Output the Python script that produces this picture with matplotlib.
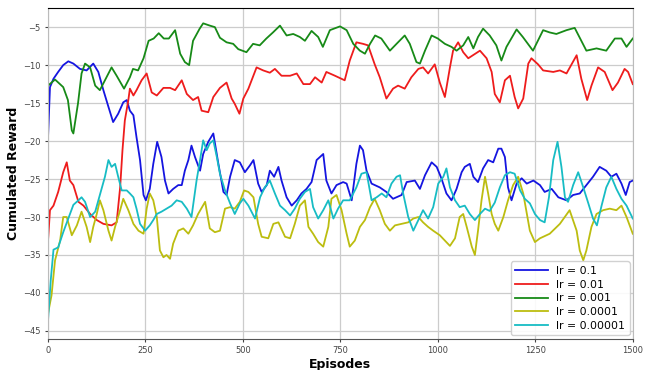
import matplotlib
matplotlib.use("Agg")
import matplotlib.pyplot as plt

# values (episode, reward)
ep_01 = [0, 5, 14, 26, 39, 52, 65, 82, 99, 116, 129, 142, 155, 167, 180, 193, 202, 210, 219, 227, 236, 245,
         251, 261, 270, 280, 291, 300, 309, 321, 334, 343, 351, 360, 368, 377, 390, 398, 411, 424, 437, 450,
         458, 467, 479, 492, 505, 518, 527, 539, 548, 561, 569, 580, 591, 599, 612, 625, 638, 650, 663, 676,
         689, 706, 714, 727, 740, 757, 766, 779, 791, 800, 808, 817, 830, 851, 868, 885, 907, 920, 941, 954,
         967, 984, 997, 1009, 1022, 1035, 1048, 1061, 1069, 1082, 1091, 1103, 1116, 1129, 1142, 1155, 1163,
         1172, 1180, 1189, 1202, 1215, 1228, 1245, 1262, 1274, 1292, 1309, 1330, 1347, 1364, 1381, 1398, 1415,
         1432, 1445, 1458, 1471, 1482, 1492, 1500]
r_01 = [-19.5, -12.9, -11.8, -10.9, -10.0, -9.5, -9.8, -10.5, -10.7, -9.8, -10.9, -13.3, -15.5, -17.5, -16.4,
        -14.9, -14.6, -16.0, -16.6, -19.5, -22.5, -27.1, -27.8, -26.3, -23.0, -20.1, -22.1, -25.2, -26.9, -26.3,
        -25.8, -25.8, -23.9, -22.5, -20.6, -22.1, -23.9, -21.7, -20.1, -19.0, -23.0, -26.7, -27.1, -24.7, -22.5,
        -22.8, -24.1, -23.2, -22.5, -25.6, -26.7, -25.8, -23.9, -24.7, -23.4, -25.2, -27.4, -28.5, -27.8, -26.9,
        -26.3, -25.4, -22.5, -21.7, -25.2, -26.9, -25.8, -25.4, -25.6, -27.8, -23.0, -20.6, -21.2, -23.9, -25.6,
        -26.1, -26.7, -27.6, -27.1, -25.4, -25.2, -26.3, -24.5, -22.8, -23.4, -24.9, -26.9, -27.8, -26.3, -24.1,
        -23.4, -23.0, -24.7, -25.4, -23.6, -22.5, -22.8, -21.0, -21.0, -22.1, -26.1, -27.8, -25.6, -24.9, -25.6,
        -25.2, -25.8, -26.7, -26.3, -27.4, -27.8, -27.1, -26.9, -25.8, -24.7, -23.4, -23.9, -24.7, -24.3, -25.6,
        -27.1, -25.4, -25.2]

ep_001 = [0, 5, 14, 26, 39, 48, 56, 65, 78, 91, 108, 125, 142, 163, 176, 185, 191, 197, 206, 210, 219, 227,
          240, 253, 266, 279, 296, 313, 326, 343, 356, 372, 385, 394, 411, 424, 441, 458, 471, 479, 491, 501,
          514, 535, 552, 569, 582, 599, 621, 638, 655, 672, 685, 702, 714, 736, 761, 774, 791, 808, 821, 838,
          851, 868, 885, 898, 915, 932, 950, 962, 975, 992, 1005, 1018, 1031, 1039, 1052, 1065, 1078, 1090,
          1108, 1125, 1138, 1146, 1159, 1172, 1185, 1197, 1206, 1219, 1232, 1240, 1257, 1270, 1296, 1313, 1330,
          1356, 1368, 1383, 1394, 1411, 1428, 1448, 1462, 1479, 1488, 1500]
r_001 = [-33.1, -29.1, -28.5, -26.7, -24.1, -22.8, -25.2, -25.8, -28.0, -28.5, -29.6, -30.4, -30.9, -31.1,
         -30.7, -26.1, -21.2, -17.3, -14.6, -13.1, -14.0, -13.3, -12.0, -11.1, -13.6, -14.0, -13.0, -13.0, -13.3,
         -12.0, -13.8, -14.6, -14.2, -16.0, -16.2, -14.2, -13.0, -12.3, -14.4, -15.1, -16.4, -14.4, -13.1, -10.3,
         -10.7, -11.0, -10.5, -11.4, -11.4, -11.1, -12.5, -12.5, -11.6, -12.3, -10.9, -11.4, -12.0, -9.4, -7.0,
         -7.2, -7.4, -9.9, -11.6, -14.4, -13.1, -12.7, -13.1, -11.6, -10.5, -10.3, -11.1, -9.9, -12.3, -14.2,
         -10.3, -8.1, -7.0, -8.3, -9.1, -8.7, -8.1, -9.1, -10.9, -13.8, -14.9, -12.0, -11.4, -14.2, -15.7, -14.4,
         -9.8, -9.1, -9.9, -10.7, -10.9, -10.7, -11.1, -8.7, -11.8, -14.6, -12.7, -10.3, -10.9, -13.3, -12.3,
         -10.5, -10.9, -12.5]

ep_0001 = [0, 18, 39, 51, 61, 65, 77, 86, 95, 108, 121, 133, 150, 163, 176, 195, 210, 218, 231, 245, 258, 271,
           284, 297, 310, 326, 339, 351, 362, 372, 389, 398, 415, 428, 441, 458, 475, 488, 509, 526, 543, 560,
           577, 595, 612, 629, 646, 659, 676, 693, 705, 723, 749, 766, 783, 800, 813, 826, 839, 855, 877, 894,
           915, 928, 945, 954, 967, 984, 1000, 1018, 1035, 1048, 1065, 1078, 1091, 1103, 1116, 1133, 1150, 1163,
           1176, 1202, 1218, 1244, 1270, 1287, 1304, 1330, 1351, 1372, 1381, 1407, 1432, 1454, 1471, 1484, 1500]
r_0001 = [-12.7, -11.9, -12.9, -14.6, -18.6, -19.0, -15.0, -11.1, -9.8, -10.3, -12.7, -13.3, -11.6, -10.3,
          -11.4, -13.1, -11.6, -10.5, -10.7, -9.1, -6.8, -6.5, -5.8, -6.5, -6.5, -5.4, -8.5, -9.6, -10.0, -6.8,
          -5.2, -4.5, -4.8, -5.0, -6.4, -7.0, -7.2, -7.9, -8.3, -7.2, -7.4, -6.5, -5.7, -4.8, -6.1, -5.9, -6.3,
          -6.8, -5.5, -6.3, -7.6, -5.4, -4.9, -5.4, -7.2, -8.1, -8.5, -7.2, -6.1, -6.5, -8.1, -7.2, -6.1, -7.2,
          -9.6, -9.8, -8.1, -6.1, -6.5, -7.2, -7.6, -8.1, -7.4, -6.3, -7.8, -6.3, -5.2, -6.1, -7.4, -9.4, -7.6,
          -5.3, -6.3, -8.1, -5.4, -5.7, -5.9, -5.4, -5.1, -7.2, -8.1, -7.8, -8.1, -6.5, -6.5, -7.6, -6.5]

ep_00001 = [0, 9, 18, 31, 39, 48, 61, 74, 86, 99, 108, 116, 125, 133, 142, 155, 163, 172, 185, 193, 206, 219,
            232, 245, 253, 261, 270, 279, 287, 296, 304, 313, 321, 334, 347, 360, 372, 385, 403, 415, 428, 441,
            454, 467, 479, 492, 503, 514, 527, 539, 548, 565, 578, 591, 608, 621, 633, 646, 659, 668, 680, 693,
            706, 719, 727, 740, 753, 766, 774, 787, 800, 813, 826, 838, 851, 864, 877, 890, 907, 924, 937, 950,
            962, 975, 988, 1005, 1018, 1031, 1044, 1056, 1065, 1074, 1087, 1095, 1103, 1112, 1121, 1129, 1138,
            1146, 1155, 1168, 1180, 1193, 1206, 1219, 1236, 1249, 1262, 1287, 1313, 1338, 1356, 1364, 1373, 1381,
            1394, 1407, 1424, 1441, 1458, 1471, 1484, 1500]
r_00001 = [-42.7, -40.3, -35.7, -33.1, -30.0, -30.0, -32.4, -31.1, -29.3, -31.3, -33.3, -31.3, -29.6, -27.8,
           -29.1, -31.8, -33.1, -31.3, -29.1, -27.6, -29.1, -30.9, -31.8, -32.2, -28.9, -26.9, -27.8, -30.0,
           -34.4, -35.3, -35.0, -35.5, -33.5, -31.8, -31.5, -32.2, -31.1, -29.6, -28.0, -31.5, -32.0, -31.8,
           -28.9, -28.7, -28.9, -28.0, -26.5, -26.7, -27.4, -30.9, -32.6, -32.8, -30.9, -30.7, -32.6, -32.8,
           -30.9, -28.5, -27.8, -31.3, -32.2, -33.3, -33.9, -31.3, -27.6, -27.1, -29.1, -32.2, -33.9, -33.1,
           -31.3, -30.4, -28.7, -27.6, -29.1, -30.9, -31.8, -31.1, -30.9, -30.7, -30.2, -30.0, -30.7, -31.3,
           -31.8, -32.4, -33.1, -33.8, -32.8, -30.0, -29.6, -31.3, -33.9, -35.0, -31.8, -27.8, -24.7, -26.9,
           -29.6, -30.9, -31.8, -30.0, -27.8, -25.8, -24.7, -26.9, -31.8, -33.3, -32.8, -32.2, -30.9, -29.1,
           -31.8, -34.4, -35.7, -34.4, -31.3, -29.6, -29.1, -28.9, -29.1, -28.5, -30.0, -32.2]

ep_000001 = [0, 7, 14, 26, 39, 52, 65, 78, 86, 95, 108, 121, 133, 146, 155, 163, 172, 180, 189, 202, 210, 219,
             227, 236, 249, 261, 270, 279, 291, 304, 317, 330, 343, 356, 368, 381, 390, 398, 407, 415, 424, 433,
             441, 454, 467, 479, 492, 501, 514, 531, 544, 556, 569, 582, 595, 608, 621, 633, 646, 659, 672, 680,
             693, 706, 719, 732, 744, 757, 774, 791, 804, 817, 830, 843, 856, 868, 881, 894, 903, 911, 924, 937,
             950, 962, 975, 988, 1001, 1014, 1022, 1031, 1044, 1056, 1069, 1082, 1095, 1108, 1121, 1133, 1146,
             1159, 1172, 1185, 1197, 1211, 1223, 1236, 1249, 1262, 1274, 1285, 1296, 1307, 1317, 1326, 1334, 1347,
             1360, 1373, 1386, 1398, 1408, 1420, 1432, 1445, 1458, 1471, 1484, 1500]
r_000001 = [-43.6, -38.3, -34.3, -34.0, -32.0, -30.2, -28.4, -27.8, -27.4, -28.0, -30.0, -29.3, -27.1, -24.7,
            -22.5, -23.4, -23.0, -24.7, -26.5, -26.5, -26.9, -27.4, -28.9, -30.9, -31.8, -31.1, -30.4, -29.6,
            -29.3, -28.9, -28.5, -27.8, -28.0, -28.9, -30.0, -25.2, -22.5, -19.9, -21.2, -20.3, -19.9, -22.1,
            -24.3, -26.5, -28.2, -29.6, -28.2, -27.6, -28.5, -30.2, -27.4, -26.1, -25.2, -26.9, -28.5, -29.1,
            -29.8, -28.9, -27.6, -26.7, -26.3, -28.7, -30.2, -29.1, -27.8, -30.2, -28.9, -27.8, -27.8, -26.1,
            -24.3, -24.1, -27.8, -27.4, -26.9, -27.4, -25.6, -24.7, -24.5, -26.9, -30.0, -31.8, -30.4, -29.1,
            -30.2, -28.7, -25.6, -24.7, -23.6, -26.1, -27.8, -28.7, -28.5, -29.6, -30.4, -29.6, -28.9, -29.2,
            -28.1, -26.1, -24.5, -24.1, -24.3, -26.5, -27.6, -28.2, -29.6, -30.4, -30.7, -27.4, -22.5, -20.1,
            -23.4, -27.4, -28.0, -25.8, -24.1, -26.1, -28.2, -30.2, -31.1, -28.5, -26.1, -24.7, -26.3, -27.6,
            -28.5, -30.2]

labels = ["lr = 0.1", "lr = 0.01", "lr = 0.001", "lr = 0.0001", "lr = 0.00001"]
colors = ["#1515e0", "#ee1c1c", "#178a17", "#bcbd10", "#17bcc4"]
x_ticks = [0, 250, 500, 750, 1000, 1250, 1500]
y_ticks = [-45, -40, -35, -30, -25, -20, -15, -10, -5]

series = [(ep_01, r_01), (ep_001, r_001), (ep_0001, r_0001), (ep_00001, r_00001), (ep_000001, r_000001)]

fig = plt.figure(figsize=(6.49, 3.70), dpi=100)
ax = fig.add_axes([0.074, 0.085, 0.901, 0.893])

for (xs, ys), lab, col in zip(series, labels, colors):
    ax.plot(xs, ys, color=col, linewidth=1.3, label=lab)

ax.set_xlim(0, 1500)
ax.set_ylim(-46, -2.5)
ax.set_xticks(x_ticks)
ax.set_yticks(y_ticks)
ax.tick_params(labelsize=6, colors="#444444", length=2)
ax.grid(True, color="#cccccc", linewidth=0.9)
ax.set_axisbelow(True)
for side in ["right", "left"]:
    ax.spines[side].set_color("#bbbbbb")
ax.spines["top"].set_color("black")
ax.spines["bottom"].set_color("#555555")

ax.set_xlabel("Episodes", fontsize=9, fontweight="bold", labelpad=2)
ax.set_ylabel("Cumulated Reward", fontsize=9, fontweight="bold", labelpad=2)
ax.legend(loc="lower right", fontsize=7.8, handlelength=3.0, framealpha=0.9,
          borderaxespad=0.3, labelspacing=0.35)

fig.savefig("out.png", dpi=100)
